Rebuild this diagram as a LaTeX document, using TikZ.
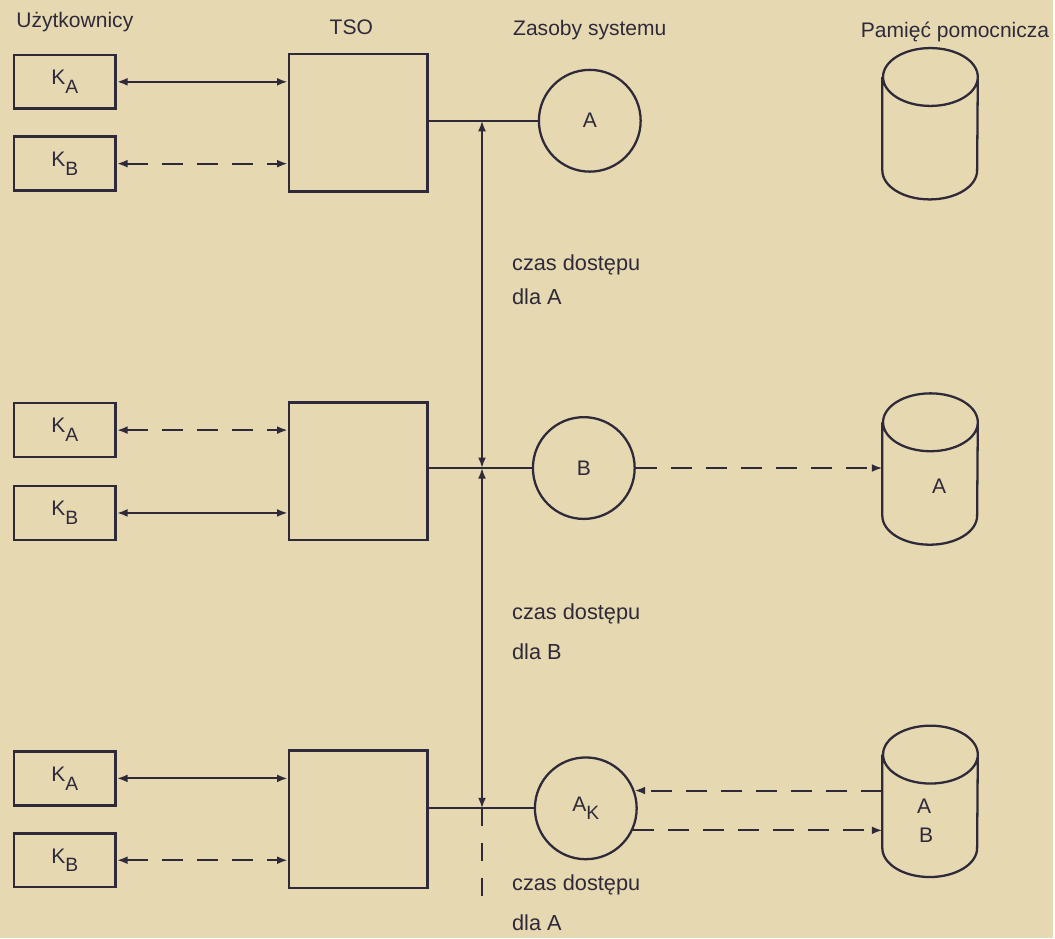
\documentclass[tikz,border=0pt]{standalone}
\usepackage{fontspec}
\setmainfont{Liberation Sans}
\usetikzlibrary{arrows.meta, positioning}
\definecolor{paper}{RGB}{230,216,177}
\definecolor{ink}{RGB}{46,42,58}
\newcommand{\drawdisk}[1]{%
  \draw[ink, line width=1.3pt] (#1.north west) -- (#1.south west)
    arc[start angle=180, end angle=360, x radius=0.95cm, y radius=0.58cm] -- (#1.north east)
    arc[start angle=0, end angle=360, x radius=0.95cm, y radius=0.58cm];}
\newcommand{\lowsub}[2]{#1\raisebox{-0.42em}{\fontsize{11}{12}\selectfont #2}}

\begin{document}
\begin{tikzpicture}[
      x=0.02cm, y=-0.02cm,
      >={Latex[length=6pt,width=4.5pt]},
      term/.style={rectangle, draw=ink, line width=1.5pt, minimum width=2.04cm, minimum height=1.08cm, font=\fontsize{12}{14}\selectfont, text=ink},
      tso/.style={rectangle, draw=ink, line width=1.5pt, minimum width=2.78cm, minimum height=2.76cm},
      res/.style={circle, draw=ink, line width=1.3pt, minimum size=2.04cm, inner sep=0pt, font=\fontsize{12}{14}\selectfont, text=ink},
      store/.style={rectangle, minimum width=1.9cm, minimum height=1.86cm, inner sep=0pt},
      head/.style={font=\fontsize{12}{14}\selectfont, text=ink},
      note/.style={font=\fontsize{12.4}{14}\selectfont, text=ink, anchor=west},
      link/.style={<->, draw=ink, line width=1.1pt},
      dlink/.style={link, dash pattern=on 12pt off 8pt},
      bus/.style={draw=ink, line width=1.2pt}
  ]
      % Paper
      \fill[paper] (0,0) rectangle (1055,940);

      % Column headings
      \node[head] (husers) at (75,22) {Użytkownicy};
      \node[head] (htso) at (352,27) {TSO};
      \node[head] (hres) at (591,30) {Zasoby systemu};
      \node[head] (hmem) at (957,32) {Pamięć pomocnicza};

      % Terminals and TSO boxes
      \node[term] (ka1) at (65,82) {\lowsub{K}{A}};
      \node[term] (kb1) at (65,164) {\lowsub{K}{B}};
      \node[tso] (tso1) at (359,123) {};
      \node[term] (ka2) at (65,431) {\lowsub{K}{A}};
      \node[term] (kb2) at (65,514) {\lowsub{K}{B}};
      \node[tso] (tso2) at (359,472) {};
      \node[term] (ka3) at (65,780) {\lowsub{K}{A}};
      \node[term] (kb3) at (65,862) {\lowsub{K}{B}};
      \node[tso] (tso3) at (359,821) {};

      % System resources
      \node[res] (ra) at (591,121) {A};
      \node[res] (rb) at (585,469) {B};
      \node[res] (rak) at (587,810) {\lowsub{A}{K}};

      % Auxiliary memory
      \node[store] (m1) at (932,124) {};
      \node[store] (m2) at (932,470) {};
      \node[store] (m3) at (932,803) {};
      \drawdisk{m1}
      \drawdisk{m2}
      \drawdisk{m3}
      \node[head] (m2a) at (941,487) {A};
      \node[head] (m3a) at (926,808) {A};
      \node[head] (m3b) at (928,837) {B};

      % Terminal links
      \draw[link] (ka1) -- (ka1 -| tso1.west);
      \draw[dlink] (kb1) -- (kb1 -| tso1.west);
      \draw[dlink] (ka2) -- (ka2 -| tso2.west);
      \draw[link] (kb2) -- (kb2 -| tso2.west);
      \draw[link] (ka3) -- (ka3 -| tso3.west);
      \draw[dlink] (kb3) -- (kb3 -| tso3.west);

      % TSO to resources
      \draw[bus] (tso1.east |- ra) -- (ra);
      \draw[bus] (tso2.east |- rb) -- (rb);
      \draw[bus] (tso3.east |- rak) -- (rak);

      % Access time axis
      \coordinate (j1) at (483,121);
      \coordinate (j2) at (483,469);
      \coordinate (j3) at (483,810);
      \coordinate (jend) at (483,910);
      \draw[link] (j1) -- (j2);
      \draw[link] (j2) -- (j3);
      \draw[bus, dash pattern=on 10pt off 10pt] (j3) -- (jend);
      \node[note] (t1a) at (507,265) {czas dostępu};
      \node[note] (t1b) at (507,297) {dla A};
      \node[note] (t2a) at (507,615) {czas dostępu};
      \node[note] (t2b) at (507,653) {dla B};
      \node[note] (t3a) at (507,887) {czas dostępu};
      \node[note] (t3b) at (507,925) {dla A};

      % Swapping
      \draw[dlink, -> ] (rb.east) -- (rb.east -| m2.west);
      \draw[dlink, ->] (m3.west |- rak.20) -- (rak.20);
      \draw[dlink, ->] (rak.-25) -- (rak.-25 -| m3.west);

  \end{tikzpicture}
\end{document}
